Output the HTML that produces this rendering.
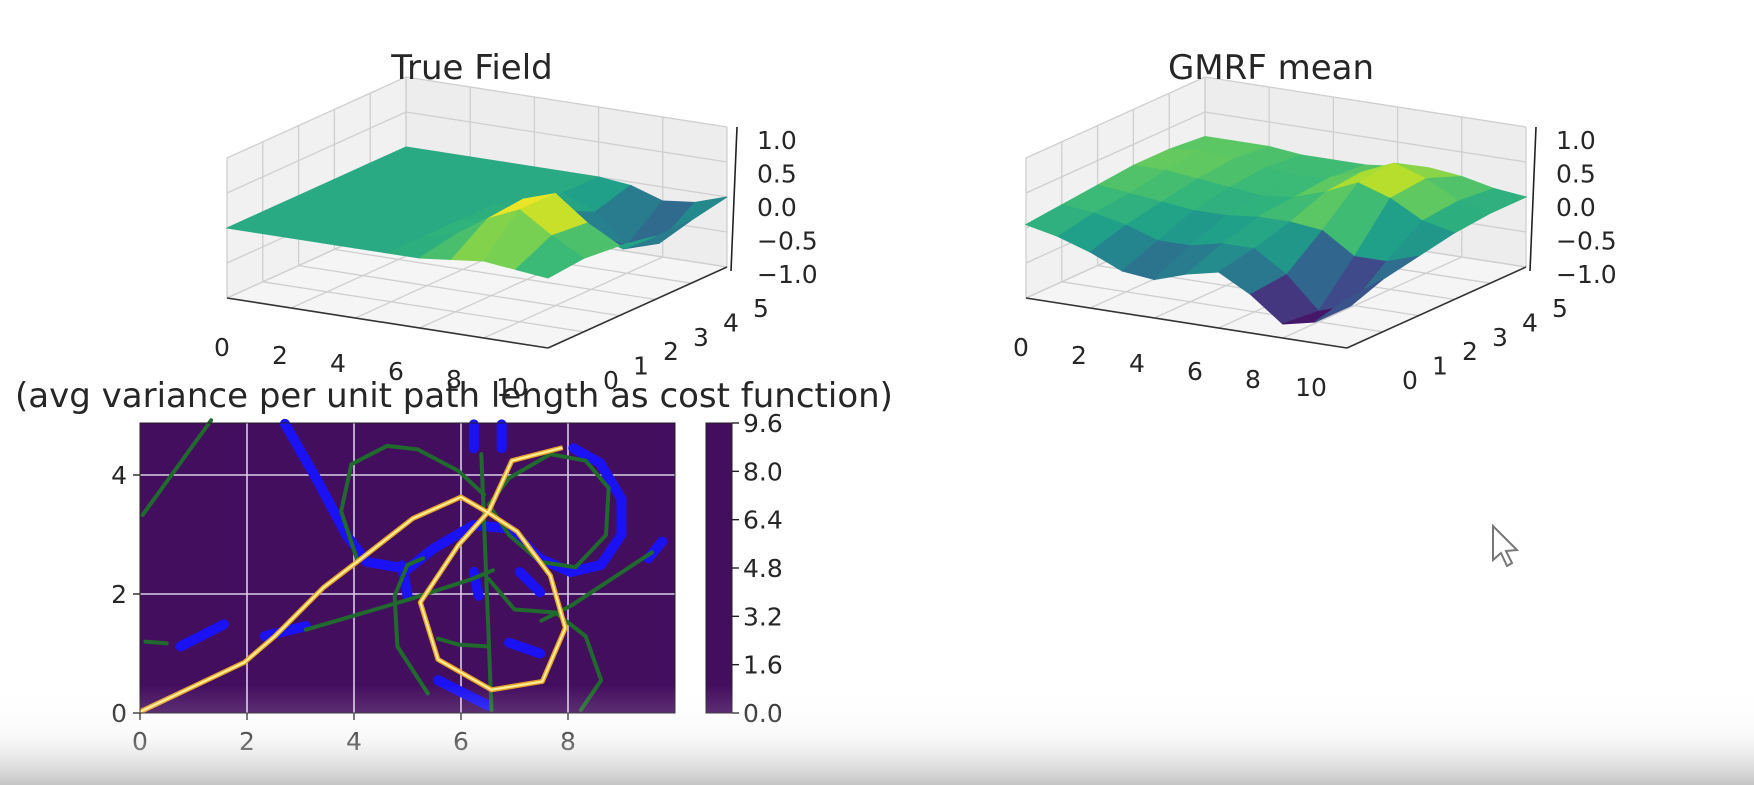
<!DOCTYPE html>
<html><head><meta charset="utf-8"><style>
html,body{margin:0;padding:0;background:#fff;}
#wrap{position:relative;width:1754px;height:785px;overflow:hidden;background:#fff;font-family:"Liberation Sans","DejaVu Sans",sans-serif;}
svg text{font-family:"DejaVu Sans","Liberation Sans",sans-serif;fill:#262626;}
</style></head><body>
<div id="wrap">
<svg id="svg" width="1754" height="785" viewBox="0 0 1754 785">
<defs>
<linearGradient id="fade" x1="0" y1="0" x2="0" y2="1">
<stop offset="0" stop-color="#ffffff" stop-opacity="0"/>
<stop offset="0.5" stop-color="#e8e8e8" stop-opacity="0.25"/>
<stop offset="1" stop-color="#c0c0c0" stop-opacity="0.92"/>
</linearGradient>
</defs>
<g id="p1"></g>
<g id="p2"></g>
<g id="hm"></g>
<text x="472" y="79" font-size="34" text-anchor="middle">True Field</text>
<text x="1271" y="79" font-size="34" text-anchor="middle">GMRF mean</text>
<text x="454" y="407" font-size="34" text-anchor="middle">(avg variance per unit path length as cost function)</text>
<rect x="0" y="685" width="1754" height="100" fill="url(#fade)"/>
<path d="M1493,526 L1493,560 L1501,553 L1507,566 L1512,563 L1506,551 L1517,550 Z" fill="#fff" stroke="#777" stroke-width="2"/>
</svg>
</div>
<script>
// ---------- data ----------
const xTicks3d = [0,2,4,6,8,10];
const yTicks3d = [0,1,2,3,4,5];
const zTicks3d = [-1.0,-0.5,0.0,0.5,1.0];
const zLabels3d = ["\u22121.0","\u22120.5","0.0","0.5","1.0"];
// rows y=0..5, columns x=0..10
const trueFieldZ = [
 [0,0,0,0,0,0,0,0.05,0.1,0.05,0],
 [0,0,0,0,0,0,0.1,0.4,0.6,0.3,0.05],
 [0,0,0,0,0,0,0.1,0.45,0.6,0.25,0],
 [0,0,0,0,0,0,0,0.05,-0.2,-0.35,-0.1],
 [0,0,0,0,0,0,0,-0.2,-0.6,-0.5,-0.1],
 [0,0,0,0,0,0,0,-0.05,-0.2,-0.15,0]
];
const gmrfZ = [
 [0.05,-0.05,-0.2,-0.4,-0.45,-0.3,-0.2,-0.45,-0.8,-0.7,-0.3],
 [0.1,0.05,-0.05,-0.2,-0.2,-0.1,-0.1,-0.4,-0.85,-0.7,-0.25],
 [0.15,0.1,0.05,0,0,0.05,0.05,0,-0.3,-0.3,-0.15],
 [0.2,0.2,0.15,0.1,0.05,0.1,0.25,0.45,0.3,0.05,-0.05],
 [0.2,0.25,0.2,0.15,0.1,0.15,0.3,0.5,0.35,0.1,0],
 [0.15,0.15,0.15,0.1,0.1,0.1,0.15,0.2,0.15,0.05,0]
];
const hmXTicks = [0,2,4,6,8];
const hmYTicks = [0,2,4];
const cbTicks = [0.0,1.6,3.2,4.8,6.4,8.0,9.6];
const plannedPath = [[0,0.02],[1.95,0.85],[2.52,1.29],[3.43,2.11],[4.1,2.57],[5.1,3.27],[6.0,3.63],[6.52,3.36],[7.05,3.05],[7.67,2.31],[7.95,1.43],[7.52,0.53],[6.57,0.39],[5.57,0.9],[5.24,1.86],[5.95,2.82],[6.52,3.39],[6.95,4.24],[7.9,4.46]];
const greenPaths = [
 [[0.05,3.33],[1.33,4.92]],
 [[5.38,0.33],[4.81,1.12],[4.76,1.97],[5.0,2.49],[5.29,2.6]],
 [[4.05,2.6],[3.76,3.39],[3.95,4.18],[4.62,4.49],[5.19,4.43],[5.95,4.07],[6.43,3.67]],
 [[6.38,4.35],[6.57,0.05]],
 [[6.52,3.5],[6.9,2.99],[7.48,2.54],[8.14,2.45],[8.71,2.99],[8.76,3.78],[8.33,4.24],[7.67,4.35],[6.9,3.95],[6.52,3.5]],
 [[3.1,1.4],[5.0,1.9],[6.2,2.25],[6.6,2.4]],
 [[7.5,1.55],[8.05,1.8],[9.57,2.7]],
 [[6.52,2.25],[7.0,1.74],[7.76,1.69],[8.33,1.29],[8.62,0.55],[8.24,0.05]],
 [[5.57,1.25],[5.95,1.15],[6.5,1.12]],
 [[0.1,1.2],[0.5,1.17]]
];
const bluePaths = [
 [[0.76,1.12],[1.57,1.49]],
 [[2.33,1.29],[3.1,1.46]],
 [[2.71,4.86],[3.29,3.95],[3.86,2.99],[4.24,2.54],[5.0,2.42],[5.48,2.76],[6.24,3.16],[6.9,3.1],[7.48,2.59],[8.05,2.37],[8.62,2.49],[9.0,3.0],[9.0,3.6],[8.6,4.2],[8.1,4.45]],
 [[9.5,2.6],[9.76,2.88]],
 [[6.24,4.85],[6.24,4.45]],
 [[6.76,4.85],[6.76,4.45]],
 [[4.9,2.48],[5.0,1.97]],
 [[6.24,2.37],[6.33,1.97]],
 [[7.1,2.37],[7.48,2.03]],
 [[6.9,1.18],[7.48,1.0]],
 [[5.57,0.55],[6.52,0.12]]
];
// ---------- helpers ----------
const NS="http://www.w3.org/2000/svg";
function mk(tag,attrs,parent){const e=document.createElementNS(NS,tag);for(const k in attrs)e.setAttribute(k,attrs[k]);parent.appendChild(e);return e;}
const vir=[[68,1,84],[72,40,120],[62,74,137],[49,104,142],[38,130,142],[31,158,137],[53,183,121],[109,205,89],[180,222,44],[253,231,37]];
function viridis(t){t=Math.max(0,Math.min(1,t));const s=t*(vir.length-1),i=Math.min(vir.length-2,Math.floor(s)),f=s-i;const c=vir[i].map((v,k)=>Math.round(v+(vir[i+1][k]-v)*f));return `rgb(${c[0]},${c[1]},${c[2]})`;}
// ---------- 3D panels ----------
function panel(g,ox,Z,tag){
 const P=(x,y,z)=>[ox+227+32.1*x+35.8*y, 298+5.0*x-16.2*y-70*(z+1)];
 const poly=(pts,fill,stroke,name)=>{const e=mk('polygon',{points:pts.map(p=>p.join(',')).join(' '),fill:fill,stroke:stroke||'none','stroke-width':1},g);
   
   return e;};
 const line=(a,b,c,w,name)=>{const e=mk('line',{x1:a[0],y1:a[1],x2:b[0],y2:b[1],stroke:c,'stroke-width':w},g);
   
   };
 poly([P(0,0,-1),P(0,5,-1),P(0,5,1),P(0,0,1)],'#f1f1f1','#f1f1f1',tag+'-left-pane');
 poly([P(0,5,-1),P(10,5,-1),P(10,5,1),P(0,5,1)],'#ededed','#ededed',tag+'-back-pane');
 poly([P(0,0,-1),P(10,0,-1),P(10,5,-1),P(0,5,-1)],'#f5f5f5','#f5f5f5',tag+'-floor-pane');
 const gc='#cfcfcf';
 xTicks3d.forEach(x=>{line(P(x,5,-1),P(x,5,1),gc,1.3,tag+'-grid');line(P(x,0,-1),P(x,5,-1),gc,1.3,tag+'-grid');});
 yTicks3d.forEach(y=>{line(P(0,y,-1),P(0,y,1),gc,1.3,tag+'-grid');line(P(0,y,-1),P(10,y,-1),gc,1.3,tag+'-grid');});
 zTicks3d.forEach(z=>{line(P(0,0,z),P(0,5,z),gc,1.3,tag+'-grid');line(P(0,5,z),P(10,5,z),gc,1.3,tag+'-grid');});
 const cells=[];
 for(let j=0;j<5;j++)for(let i=0;i<10;i++)cells.push([i,j]);
 cells.sort((a,b)=>(b[1]-b[0]*0.5)-(a[1]-a[0]*0.5));
 cells.forEach(([i,j])=>{
  const z00=Z[j][i],z10=Z[j][i+1],z01=Z[j+1][i],z11=Z[j+1][i+1];
  const m=(z00+z10+z01+z11)/4;
  const c=viridis((m+0.85)/1.4);
  poly([P(i,j,z00),P(i+1,j,z10),P(i+1,j+1,z11),P(i,j+1,z01)],c,c,tag+'-surface-cell');
 });
 line(P(0,0,-1),P(10,0,-1),'#333',1.6,tag+'-x-axis');
 line(P(10,0,-1),P(10,5,-1),'#333',1.6,tag+'-y-axis');
 line([P(10,5,-1)[0]+4,P(10,5,-1)[1]+4],[P(10,5,1)[0]+10,P(10,5,1)[1]],'#222',1.6,tag+'-z-axis');
 zTicks3d.forEach((z,k)=>{
  const t=mk('text',{x:ox+757,y:274-(z+1)/2*134+9,'font-size':25},g);
  t.textContent=zLabels3d[k];
  
  
 });
 xTicks3d.forEach(x=>{const f=x/10;const t=mk('text',{x:ox+222+f*290,y:356+f*40,'font-size':25,'text-anchor':'middle'},g);t.textContent=x;
  
  });
 yTicks3d.forEach(y=>{const f=y/5;const t=mk('text',{x:ox+611+f*150,y:389-f*72,'font-size':25,'text-anchor':'middle'},g);t.textContent=y;
  
  });
}
panel(document.getElementById('p1'),0,trueFieldZ,'true-field');
panel(document.getElementById('p2'),799,gmrfZ,'gmrf');
// ---------- heatmap ----------
const hm=document.getElementById('hm');
const X=v=>140+v*53.5, Y=v=>713-v*59.5;
let e=mk('rect',{x:140,y:423,width:535,height:290,fill:'#440e5e'},hm);


hmXTicks.slice(1).forEach(v=>{const l=mk('line',{x1:X(v),y1:423,x2:X(v),y2:713,stroke:'#d9cde6','stroke-width':1.6},hm);
 
 });
hmYTicks.slice(1).forEach(v=>{const l=mk('line',{x1:140,y1:Y(v),x2:675,y2:Y(v),stroke:'#d9cde6','stroke-width':1.6},hm);
 
 });
const pstr=pts=>pts.map(p=>X(p[0])+','+Y(p[1])).join(' ');
bluePaths.forEach(pts=>{const l=mk('polyline',{points:pstr(pts),fill:'none',stroke:'#1a12f5','stroke-width':10,'stroke-linecap':'round','stroke-linejoin':'round'},hm);
 
 });
greenPaths.forEach(pts=>{const l=mk('polyline',{points:pstr(pts),fill:'none',stroke:'#1f6a2c','stroke-width':4,'stroke-linecap':'round','stroke-linejoin':'round'},hm);
 
 });
e=mk('polyline',{points:pstr(plannedPath),fill:'none',stroke:'#e8a42a','stroke-width':5,'stroke-linejoin':'round'},hm);


e=mk('polyline',{points:pstr(plannedPath),fill:'none',stroke:'#fff09a','stroke-width':2,'stroke-linejoin':'round'},hm);


e=mk('rect',{x:140,y:423,width:535,height:290,fill:'none',stroke:'#222','stroke-width':1},hm);


hmXTicks.forEach(v=>{mk('line',{x1:X(v),y1:713,x2:X(v),y2:720,stroke:'#222','stroke-width':1.4},hm);
 const t=mk('text',{x:X(v),y:750,'font-size':25,'text-anchor':'middle'},hm);t.textContent=v;
 
 });
hmYTicks.forEach(v=>{mk('line',{x1:133,y1:Y(v),x2:140,y2:Y(v),stroke:'#222','stroke-width':1.4},hm);
 const t=mk('text',{x:127,y:Y(v)+9,'font-size':25,'text-anchor':'end'},hm);t.textContent=v;
 
 });
e=mk('rect',{x:706,y:423,width:26,height:290,fill:'#440e5e',stroke:'#222','stroke-width':1},hm);


cbTicks.forEach(v=>{const y=713-v/9.6*290;mk('line',{x1:732,y1:y,x2:739,y2:y,stroke:'#222','stroke-width':1.4},hm);
 const t=mk('text',{x:743,y:y+9,'font-size':25},hm);t.textContent=v.toFixed(1);
 
 });
</script>
</body></html>
